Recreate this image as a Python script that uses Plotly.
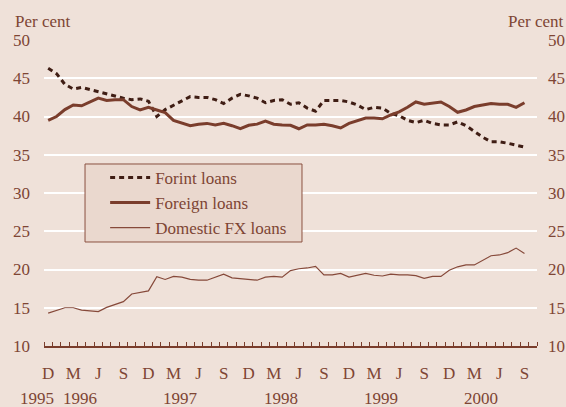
import plotly.graph_objects as go

# ---- data (monthly, Dec 1995 .. Sep 2000) ----
forint = [46.3, 45.6, 44.2, 43.6, 43.8, 43.5, 43.2, 43.0, 42.7, 42.4,
          42.2, 42.3, 42.0, 40.0, 40.9, 41.5, 42.1, 42.6, 42.5, 42.5,
          42.2, 41.7, 42.4, 42.9, 42.7, 42.4, 41.8, 42.1, 42.2, 41.6,
          41.8, 41.1, 40.7, 42.1, 42.1, 42.1, 41.9, 41.5, 40.9, 41.2,
          41.1, 40.4, 40.1, 39.5, 39.2, 39.5, 39.1, 38.9, 38.9, 39.3,
          38.8, 38.0, 37.3, 36.7, 36.7, 36.5, 36.2, 36.0]
foreign = [39.5, 40.0, 40.9, 41.5, 41.4, 41.9, 42.4, 42.1, 42.2, 42.2,
           41.3, 40.85, 41.2, 40.85, 40.5, 39.5, 39.2, 38.8, 39.0, 39.1,
           38.9, 39.1, 38.8, 38.4, 38.85, 39.0, 39.4, 39.0, 38.9, 38.85,
           38.4, 38.9, 38.9, 39.0, 38.8, 38.5, 39.1, 39.45, 39.8, 39.8,
           39.7, 40.2, 40.6, 41.2, 41.9, 41.6, 41.8, 41.9, 41.3, 40.55,
           40.85, 41.3, 41.5, 41.7, 41.6, 41.6, 41.2, 41.8]
domestic = [14.3, 14.6, 15.0, 15.0, 14.7, 14.6, 14.5, 15.05, 15.4, 15.8,
            16.8, 16.97, 17.2, 19.06, 18.7, 19.1, 19.0, 18.7, 18.6, 18.6,
            19.0, 19.4, 18.9, 18.8, 18.7, 18.6, 19.0, 19.1, 19.0, 19.85,
            20.1, 20.2, 20.4, 19.3, 19.3, 19.5, 19.0, 19.2, 19.5, 19.25,
            19.15, 19.4, 19.3, 19.3, 19.2, 18.85, 19.1, 19.1, 19.9, 20.35,
            20.6, 20.6, 21.2, 21.8, 21.9, 22.2, 22.8, 22.1]
month_idx = list(range(len(forint)))  # 0 = Dec 1995

tick_pos = list(range(0, 58, 3))
tick_text = ["D", "M", "J", "S"] * 5
years = ["1995", "1996", "1997", "1998", "1999", "2000"]
year_month = [0, 3, 15, 27, 39, 51]      # month index the year label sits under
year_shift = [-11, 7, 7, 7, 7, 7]

BG = "#EFE1D9"
TXT = "#7E4534"
FONT = "Liberation Serif, Times New Roman, DejaVu Serif, serif"

fig = go.Figure()
fig.add_trace(go.Scatter(x=month_idx, y=forint, name="Forint loans", mode="lines",
                         line=dict(color="#3f1d14", width=3, dash="5px,4px")))
fig.add_trace(go.Scatter(x=month_idx, y=foreign, name="Foreign loans", mode="lines",
                         line=dict(color="#7a3d2c", width=3)))
fig.add_trace(go.Scatter(x=month_idx, y=domestic, name="Domestic FX loans", mode="lines",
                         line=dict(color="#86493a", width=1.2)))
fig.add_trace(go.Scatter(x=month_idx, y=domestic, yaxis="y2", showlegend=False,
                         mode="lines", line=dict(width=0), opacity=0, hoverinfo="skip"))

axis_font = dict(family=FONT, size=17, color=TXT)
fig.update_layout(
    width=566, height=407,
    margin=dict(l=44, r=29, t=40, b=61, autoexpand=False),
    paper_bgcolor=BG, plot_bgcolor=BG,
    font=axis_font,
    showlegend=True,
    legend=dict(x=0.124, y=0.608, xanchor="left", yanchor="top",
                bgcolor="rgba(0,0,0,0)", borderwidth=0, itemwidth=40,
                tracegroupgap=0,
                font=dict(family=FONT, size=17, color=TXT)),
    xaxis=dict(range=[-0.5, 58.5], showgrid=False, zeroline=False, automargin=False,
               showline=True, linecolor="#7a3d2c", linewidth=1.5,
               tickmode="array", tickvals=tick_pos, ticktext=tick_text,
               ticks="", ticklabelstandoff=11, tickfont=axis_font,
               minor=dict(tickmode="linear", tick0=-0.5, dtick=1, ticks="inside",
                          ticklen=4, tickcolor="#7a3d2c", tickwidth=1, showgrid=False)),
    yaxis=dict(range=[10, 50], dtick=5, showgrid=True, gridcolor="white", gridwidth=2,
               zeroline=False, showline=False, ticks="", ticklabelstandoff=13,
               automargin=False, tickfont=axis_font),
    yaxis2=dict(range=[10, 50], dtick=5, overlaying="y", side="right", showgrid=False,
                zeroline=False, showline=False, ticks="", ticklabelstandoff=10,
                automargin=False, tickfont=axis_font),
    shapes=[dict(type="rect", xref="paper", yref="paper",
                 x0=0.0832, x1=0.5233, y0=0.3399, y1=0.5948,
                 fillcolor="#EAD8CE", line=dict(color="#8a5040", width=1),
                 layer="above")],
)

annotations = [
    dict(text="Per cent", xref="paper", yref="paper", x=-0.063, y=1.06,
         xanchor="left", yanchor="middle", showarrow=False, font=axis_font),
    dict(text="Per cent", xref="paper", yref="paper", x=1.059, y=1.06,
         xanchor="right", yanchor="middle", showarrow=False, font=axis_font),
]
for yr, pos, sh in zip(years, year_month, year_shift):
    annotations.append(dict(text=yr, x=pos, xref="x", yref="paper", y=-0.172,
                            xshift=sh, xanchor="center", yanchor="middle",
                            showarrow=False, font=axis_font))
fig.update_layout(annotations=annotations)

fig.write_html("out.html",
               config={"displayModeBar": False},
               post_script="document.body.style.margin='0';document.body.style.overflow='hidden';")
